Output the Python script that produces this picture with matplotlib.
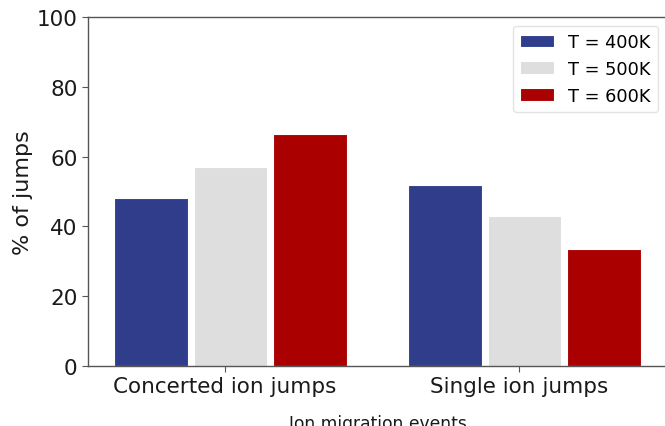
import numpy as np
import matplotlib
matplotlib.use('Agg')
import matplotlib.pyplot as plt

plt.rcParams['font.family'] = ['DejaVu Sans']

categories = ['Concerted ion jumps', 'Single ion jumps']
temps = ['T = 400K', 'T = 500K', 'T = 600K']
pct_400 = [48.0, 52.0]
pct_500 = [57.0, 43.0]
pct_600 = [66.5, 33.5]
colors = ['#2f3d8b', '#dedede', '#aa0000']

fig = plt.figure(figsize=(6.65, 4.27), dpi=100)
ax = fig.add_axes([88 / 665, 60 / 427, 579 / 665, 349 / 427])

x = np.arange(len(categories))
width = 0.25
offsets = [-0.25, 0.02, 0.29]
for vals, off, c, lab in zip([pct_400, pct_500, pct_600], offsets, colors, temps):
    ax.bar(x + off, vals, width, color=c, edgecolor='white', linewidth=0.8, label=lab)

ax.set_ylim(0, 100)
ax.set_yticks(range(0, 101, 20))
ax.set_xticks(x)
ax.set_xticklabels(categories)
ax.tick_params(labelsize=15.5, labelcolor='#1a1a1a', length=4, color='#555555')
ax.set_ylabel('% of jumps', fontsize=16, color='#1a1a1a', labelpad=3)
ax.set_xlabel('Ion migration events', fontsize=12.3, color='#1a1a1a', labelpad=13)

for sp in ax.spines.values():
    sp.set_color('#555555')
    sp.set_linewidth(1.0)

ax.legend(loc='upper right', fontsize=12.8, frameon=True, edgecolor='#dddddd',
          handlelength=1.9, handleheight=0.7)

fig.savefig('out.png', dpi=100)
